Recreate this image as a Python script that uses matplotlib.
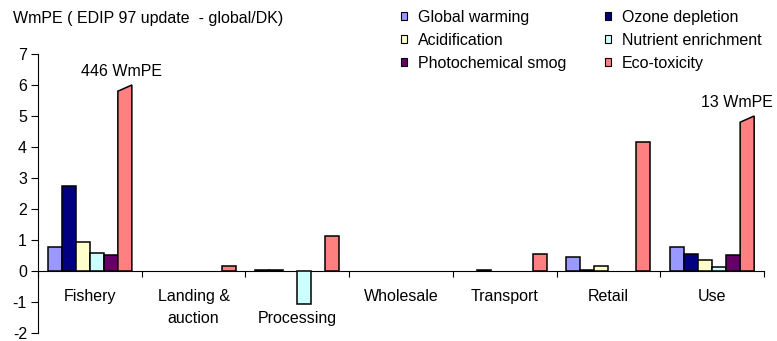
import matplotlib
matplotlib.use("Agg")
import matplotlib.pyplot as plt
from matplotlib.patches import Polygon, Patch
import numpy as np

plt.rcParams['font.family'] = ['Liberation Sans', 'DejaVu Sans']
plt.rcParams['axes.unicode_minus'] = False

categories = ["Fishery", "Landing &\nauction", "\nProcessing", "Wholesale", "Transport", "Retail", "Use"]
series = ["Global warming", "Ozone depletion", "Acidification", "Nutrient enrichment",
          "Photochemical smog", "Eco-toxicity"]
colors = ["#9999FF", "#000080", "#FFFFCC", "#CCFFFF", "#660066", "#FF8080"]

global_warming = [0.77, 0.0, 0.04, 0.0, 0.0, 0.45, 0.77]
ozone_depletion = [2.73, 0.0, 0.04, 0.0, 0.04, 0.03, 0.56]
acidification = [0.93, 0.0, 0.0, 0.0, 0.0, 0.15, 0.36]
nutrient_enrichment = [0.57, 0.0, -1.08, 0.0, 0.0, 0.0, 0.12]
photochemical_smog = [0.52, 0.0, 0.0, 0.0, 0.0, 0.0, 0.52]
eco_toxicity_shown = [6.0, 0.16, 1.13, 0.0, 0.56, 4.15, 5.0]
eco_toxicity_actual = [446, None, None, None, None, None, 13]
yticks = [-2, -1, 0, 1, 2, 3, 4, 5, 6, 7]

values = [global_warming, ozone_depletion, acidification, nutrient_enrichment,
          photochemical_smog, eco_toxicity_shown]

FS = 11.5
fig = plt.figure(figsize=(7.77, 3.41), dpi=100)
ax = fig.add_axes([38/777, 8/341, (764-38)/777, (333-54)/341])

x = np.arange(len(categories))
w = 0.135
for j, (vals, c) in enumerate(zip(values, colors)):
    xs = x + (j - 2.5) * w
    for i, v in enumerate(vals):
        if j == 5 and eco_toxicity_actual[i] is not None:
            x0, x1 = xs[i] - w/2, xs[i] + w/2
            poly = Polygon([(x0, 0), (x0, v - 0.2), (x1, v), (x1, 0)], closed=True,
                           facecolor=c, edgecolor='black', linewidth=1.1, zorder=3)
            ax.add_patch(poly)
            dx = -0.03 if i < len(categories) - 1 else -0.1
            ax.text(xs[i] + dx, v + 0.45, f"{eco_toxicity_actual[i]} WmPE", ha='center',
                    va='center', fontsize=FS, clip_on=False)
        elif v != 0:
            ax.bar(xs[i], v, width=w, color=c, edgecolor='black', linewidth=1.1, zorder=3)

ax.set_xlim(-0.5, len(categories) - 0.5)
ax.set_ylim(-2, 7)
ax.set_yticks(yticks)
ax.set_yticklabels([str(t) for t in yticks], fontsize=FS)
ax.spines['top'].set_visible(False)
ax.spines['right'].set_visible(False)
ax.spines['bottom'].set_position(('data', 0))
ax.spines['left'].set_linewidth(0.8)
ax.spines['bottom'].set_linewidth(0.8)
ax.tick_params(axis='y', direction='out', length=5, width=0.8, pad=3)

ax.set_xticks(np.arange(len(categories) + 1) - 0.5)
ax.set_xticklabels([])
ax.tick_params(axis='x', which='major', direction='out', length=4, width=0.8)
ax.set_xticks(x, minor=True)
ax.set_xticklabels(categories, minor=True, fontsize=FS, linespacing=1.6)
ax.tick_params(axis='x', which='minor', length=0, pad=13)

fig.text(13/777, 1 - 18/341, "WmPE ( EDIP 97 update  - global/DK)", fontsize=FS,
         ha='left', va='center')

handles = [Patch(facecolor=c, edgecolor='black', linewidth=0.8) for c in colors]
order = [0, 2, 4, 1, 3, 5]
fig.legend([handles[k] for k in order], [series[k] for k in order], ncol=2,
           loc='upper left', bbox_to_anchor=(401/777, 1 - 10/341), frameon=False,
           fontsize=FS, handlelength=0.38, handleheight=0.38, handletextpad=0.7,
           columnspacing=2.4, labelspacing=0.5, borderpad=0, borderaxespad=0)

fig.savefig("out.png", dpi=100)
